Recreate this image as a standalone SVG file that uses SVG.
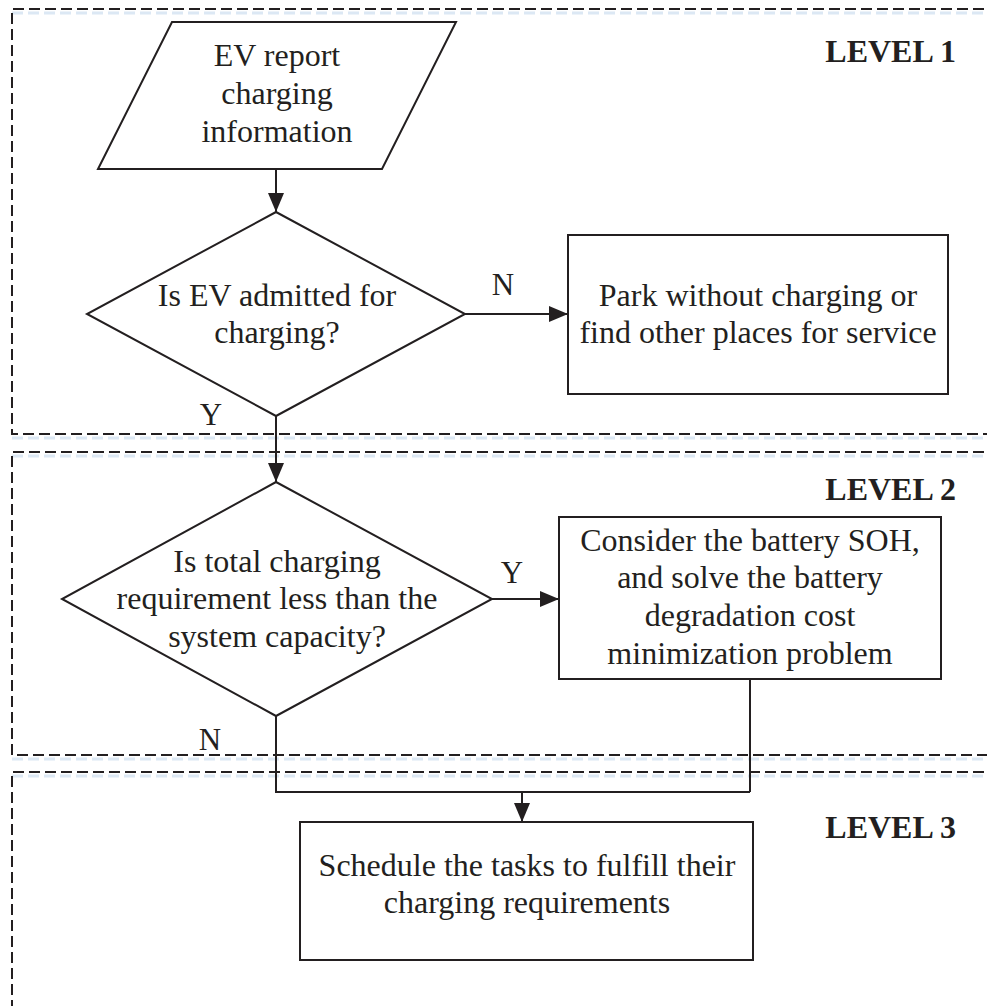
<svg xmlns="http://www.w3.org/2000/svg" width="987" height="1006" viewBox="0 0 987 1006">
<defs>
<marker id="arr" markerUnits="userSpaceOnUse" markerWidth="20" markerHeight="16" refX="19" refY="8" orient="auto">
<path d="M0,0 L19,8 L0,16 Z" fill="#231f20"/>
</marker>
<style>
.shape{fill:#fff;stroke:#231f20;stroke-width:2}
.lvl{fill:none;stroke:#231f20;stroke-width:2;stroke-dasharray:11 5}
.shadow{fill:none;stroke:#dce8f4;stroke-width:3;stroke-dasharray:11 5}
.t{font-family:"Liberation Serif","Times New Roman",Times,serif;font-size:32px;fill:#231f20;text-anchor:middle}
.lab{font-family:"Liberation Serif","Times New Roman",Times,serif;font-size:31px;fill:#231f20;text-anchor:middle}
.lv{font-family:"Liberation Serif","Times New Roman",Times,serif;font-size:32px;font-weight:bold;fill:#231f20;text-anchor:end}
.conn{fill:none;stroke:#231f20;stroke-width:2}
</style>
</defs>
<rect width="987" height="1006" fill="#fff"/>
<g id="levels">
<path class="shadow" d="M12,13 H1000 M12,438 H1000 M12,456 H1000 M12,759 H1000 M12,776 H1000"/>
<path class="lvl" d="M1000,9 H12 V434 H1000"/>
<path class="lvl" d="M1000,452 H12 V755 H1000"/>
<path class="lvl" d="M1000,772 H12 V1010"/>
<text class="lv" x="956" y="62">LEVEL 1</text>
<text class="lv" x="956" y="500">LEVEL 2</text>
<text class="lv" x="956" y="838">LEVEL 3</text>
</g>
<g id="connectors">
<path class="conn" d="M276,169 V212" marker-end="url(#arr)"/>
<path class="conn" d="M465,314 H568" marker-end="url(#arr)"/>
<path class="conn" d="M276,416 V482" marker-end="url(#arr)"/>
<path class="conn" d="M492,599 H559" marker-end="url(#arr)"/>
<path class="conn" d="M276,716 V792 H750"/>
<path class="conn" d="M750,679 V792"/>
<path class="conn" d="M522,792 V822" marker-end="url(#arr)"/>
<text class="lab" x="503" y="295">N</text>
<text class="lab" x="211" y="425">Y</text>
<text class="lab" x="512" y="583">Y</text>
<text class="lab" x="210" y="750">N</text>
</g>
<g id="n-report">
<polygon class="shape" points="172,22 456,22 382,169 98,169"/>
<text class="t" x="277" y="66">EV report</text>
<text class="t" x="277" y="104">charging</text>
<text class="t" x="277" y="142">information</text>
</g>
<g id="n-admit">
<polygon class="shape" points="276,212 465,314 276,416 87,314"/>
<text class="t" x="277" y="306">Is EV admitted for</text>
<text class="t" x="277" y="343">charging?</text>
</g>
<g id="n-park">
<rect class="shape" x="568" y="235" width="380" height="159"/>
<text class="t" x="758" y="306">Park without charging or</text>
<text class="t" x="758" y="343">find other places for service</text>
</g>
<g id="n-capacity">
<polygon class="shape" points="276,482 492,599 276,716 62,599"/>
<text class="t" x="277" y="572">Is total charging</text>
<text class="t" x="277" y="609">requirement less than the</text>
<text class="t" x="277" y="647">system capacity?</text>
</g>
<g id="n-soh">
<rect class="shape" x="559" y="517" width="382" height="162"/>
<text class="t" x="750" y="551">Consider the battery SOH,</text>
<text class="t" x="750" y="588">and solve the battery</text>
<text class="t" x="750" y="626">degradation cost</text>
<text class="t" x="750" y="664">minimization problem</text>
</g>
<g id="n-schedule">
<rect class="shape" x="300" y="822" width="453" height="138"/>
<text class="t" x="527" y="876">Schedule the tasks to fulfill their</text>
<text class="t" x="527" y="913">charging requirements</text>
</g>
</svg>
